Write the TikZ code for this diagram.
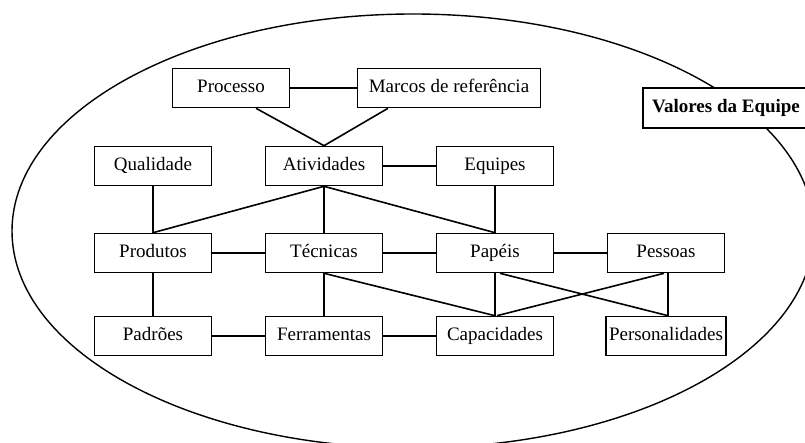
\documentclass[tikz,border=0pt]{standalone}
\usepackage{fontspec}
\setmainfont{Liberation Serif}
\newcommand{\widthbox}{117pt}
\newcommand{\widthwide}{183pt}
\newcommand{\colstep}{171pt}
\tikzset{
    common/.style={draw, rectangle, fill=white, line width=1.6pt, inner sep=3pt, minimum height=39pt, text height=13pt, text depth=4pt},
    box/.style={common, minimum width=\widthbox},
    wide/.style={common, minimum width=\widthwide},
    link/.style={line width=1.6pt}
}

\begin{document}
\begin{tikzpicture}[x=1pt, y=-1pt, font=\fontsize{19}{22}\selectfont]
    \useasboundingbox (0,0) rectangle (805,443);
    \draw[line width=1.4pt] (413,231) ellipse [x radius=401pt, y radius=217pt];

    \path
        (231,88) node[box] (processo) {Processo}
        to ++(0:218pt) node[wide] (marcos) {Marcos de referência};
    \path
        (153,166) node[box] (qualidade) {Qualidade}
        to ++(0:\colstep) node[box] (atividades) {Atividades}
        to ++(0:\colstep) node[box] (equipes) {Equipes};
    \path
        (153,253) node[box] (produtos) {Produtos}
        to ++(0:\colstep) node[box] (tecnicas) {Técnicas}
        to ++(0:\colstep) node[box] (papeis) {Papéis}
        to ++(0:\colstep) node[box] (pessoas) {Pessoas};
    \path
        (153,336) node[box] (padroes) {Padrões}
        to ++(0:\colstep) node[box] (ferramentas) {Ferramentas}
        to ++(0:\colstep) node[box] (capacidades) {Capacidades}
        to ++(0:\colstep) node[box] (personalidades) {Personalidades};
    \node[common, minimum width=166pt, minimum height=40pt] (valores) at (726,108) {\textbf{Valores da Equipe}};

    \draw[link] (processo) -- (marcos);
    \draw[link] ([xshift=25pt]processo.south) -- (atividades.north);
    \draw[link] ([xshift=-61pt]marcos.south) -- (atividades.north);
    \draw[link] (atividades) -- (equipes);
    \draw[link] (qualidade) -- (produtos);
    \draw[link] (atividades.south) -- (produtos.north);
    \draw[link] (atividades) -- (tecnicas);
    \draw[link] (atividades.south) -- (papeis.north);
    \draw[link] (equipes) -- (papeis);
    \draw[link] (produtos) -- (tecnicas);
    \draw[link] (tecnicas) -- (papeis);
    \draw[link] (papeis) -- (pessoas);
    \draw[link] (produtos) -- (padroes);
    \draw[link] (tecnicas) -- (ferramentas);
    \draw[link] (tecnicas.south) -- (capacidades.north);
    \draw[link] (papeis) -- (capacidades);
    \draw[link] ([xshift=5pt]papeis.south) -- ([xshift=2pt]personalidades.north);
    \draw[link] ([xshift=-2pt]pessoas.south) -- ([xshift=2pt]capacidades.north);
    \draw[link] ([xshift=2pt]pessoas.south) -- ([xshift=2pt]personalidades.north);
    \draw[link] (padroes) -- (ferramentas);
    \draw[link] (ferramentas) -- (capacidades);
\end{tikzpicture}
\end{document}
